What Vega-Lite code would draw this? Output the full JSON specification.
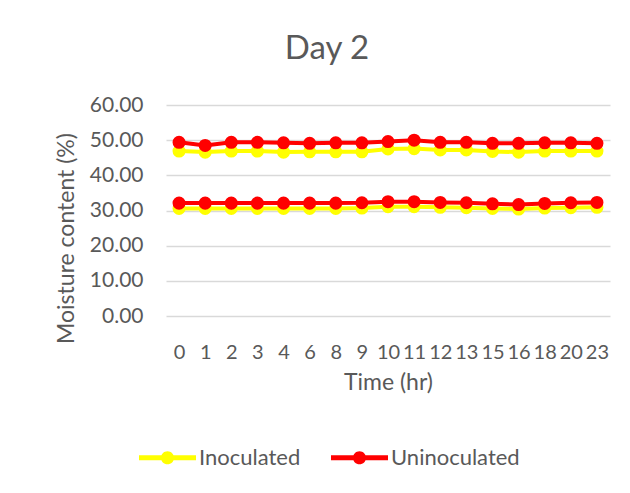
{
  "$schema": "https://vega.github.io/schema/vega-lite/v6.json",
  "width": 444,
  "height": 211,
  "autosize": {"type": "none"},
  "padding": {"left": 166, "top": 105, "right": 20, "bottom": 177},
  "background": "white",
  "title": {"text": "Day 2", "fontSize": 33, "font": "Lato", "fontWeight": "normal", "color": "#595959", "anchor": "middle", "frame": "group", "dx": -61, "offset": 28},
  "config": {
    "view": {"stroke": null},
    "font": "Lato"
  },
  "data": {"values": [
    {"t":0,"g":"Inoculated","s":"hi","v":46.9},{"t":1,"g":"Inoculated","s":"hi","v":46.6},{"t":2,"g":"Inoculated","s":"hi","v":46.9},{"t":3,"g":"Inoculated","s":"hi","v":46.9},{"t":4,"g":"Inoculated","s":"hi","v":46.6},{"t":6,"g":"Inoculated","s":"hi","v":46.7},{"t":8,"g":"Inoculated","s":"hi","v":46.7},{"t":9,"g":"Inoculated","s":"hi","v":46.7},{"t":10,"g":"Inoculated","s":"hi","v":47.5},{"t":11,"g":"Inoculated","s":"hi","v":47.6},{"t":12,"g":"Inoculated","s":"hi","v":47.2},{"t":13,"g":"Inoculated","s":"hi","v":47.2},{"t":15,"g":"Inoculated","s":"hi","v":46.8},{"t":16,"g":"Inoculated","s":"hi","v":46.6},{"t":18,"g":"Inoculated","s":"hi","v":46.9},{"t":20,"g":"Inoculated","s":"hi","v":46.9},{"t":23,"g":"Inoculated","s":"hi","v":46.9},
    {"t":0,"g":"Inoculated","s":"lo","v":30.6},{"t":1,"g":"Inoculated","s":"lo","v":30.6},{"t":2,"g":"Inoculated","s":"lo","v":30.6},{"t":3,"g":"Inoculated","s":"lo","v":30.6},{"t":4,"g":"Inoculated","s":"lo","v":30.6},{"t":6,"g":"Inoculated","s":"lo","v":30.6},{"t":8,"g":"Inoculated","s":"lo","v":30.6},{"t":9,"g":"Inoculated","s":"lo","v":30.7},{"t":10,"g":"Inoculated","s":"lo","v":31.1},{"t":11,"g":"Inoculated","s":"lo","v":31.1},{"t":12,"g":"Inoculated","s":"lo","v":30.9},{"t":13,"g":"Inoculated","s":"lo","v":30.8},{"t":15,"g":"Inoculated","s":"lo","v":30.6},{"t":16,"g":"Inoculated","s":"lo","v":30.4},{"t":18,"g":"Inoculated","s":"lo","v":30.7},{"t":20,"g":"Inoculated","s":"lo","v":30.8},{"t":23,"g":"Inoculated","s":"lo","v":30.9},
    {"t":0,"g":"Uninoculated","s":"hi","v":49.4},{"t":1,"g":"Uninoculated","s":"hi","v":48.5},{"t":2,"g":"Uninoculated","s":"hi","v":49.4},{"t":3,"g":"Uninoculated","s":"hi","v":49.4},{"t":4,"g":"Uninoculated","s":"hi","v":49.25},{"t":6,"g":"Uninoculated","s":"hi","v":49.1},{"t":8,"g":"Uninoculated","s":"hi","v":49.25},{"t":9,"g":"Uninoculated","s":"hi","v":49.25},{"t":10,"g":"Uninoculated","s":"hi","v":49.6},{"t":11,"g":"Uninoculated","s":"hi","v":50.0},{"t":12,"g":"Uninoculated","s":"hi","v":49.4},{"t":13,"g":"Uninoculated","s":"hi","v":49.4},{"t":15,"g":"Uninoculated","s":"hi","v":49.1},{"t":16,"g":"Uninoculated","s":"hi","v":49.1},{"t":18,"g":"Uninoculated","s":"hi","v":49.25},{"t":20,"g":"Uninoculated","s":"hi","v":49.25},{"t":23,"g":"Uninoculated","s":"hi","v":49.1},
    {"t":0,"g":"Uninoculated","s":"lo","v":32.1},{"t":1,"g":"Uninoculated","s":"lo","v":32.1},{"t":2,"g":"Uninoculated","s":"lo","v":32.1},{"t":3,"g":"Uninoculated","s":"lo","v":32.1},{"t":4,"g":"Uninoculated","s":"lo","v":32.1},{"t":6,"g":"Uninoculated","s":"lo","v":32.1},{"t":8,"g":"Uninoculated","s":"lo","v":32.1},{"t":9,"g":"Uninoculated","s":"lo","v":32.2},{"t":10,"g":"Uninoculated","s":"lo","v":32.5},{"t":11,"g":"Uninoculated","s":"lo","v":32.5},{"t":12,"g":"Uninoculated","s":"lo","v":32.3},{"t":13,"g":"Uninoculated","s":"lo","v":32.2},{"t":15,"g":"Uninoculated","s":"lo","v":31.9},{"t":16,"g":"Uninoculated","s":"lo","v":31.7},{"t":18,"g":"Uninoculated","s":"lo","v":32.0},{"t":20,"g":"Uninoculated","s":"lo","v":32.2},{"t":23,"g":"Uninoculated","s":"lo","v":32.3}
  ]},
  "encoding": {
    "x": {"field": "t", "type": "ordinal", "sort": "ascending",
      "axis": {"title": "Time (hr)", "labelAngle": 0, "labelFontSize": 20, "labelColor": "#595959", "labelPadding": 26, "ticks": false, "domain": false, "grid": false, "titleFontSize": 23, "titleFontWeight": "normal", "titleColor": "#595959", "titlePadding": 9, "labelFont": "Lato", "titleFont": "Lato"}},
    "y": {"field": "v", "type": "quantitative", "scale": {"domain": [0, 60]},
      "axis": {"title": "Moisture content (%)", "values": [0,10,20,30,40,50,60], "format": ".2f", "labelFontSize": 21, "labelColor": "#595959", "labelPadding": 23, "ticks": false, "domain": false, "gridColor": "#d9d9d9", "gridWidth": 1.3, "titleFontSize": 23, "titleFontWeight": "normal", "titleColor": "#595959", "titleX": -93, "titleY": 133, "titleBaseline": "alphabetic", "labelFont": "Lato", "titleFont": "Lato"}},
    "color": {"field": "g", "type": "nominal", "scale": {"domain": ["Inoculated", "Uninoculated"], "range": ["#FFFF00", "#FF0000"]},
      "legend": {"title": null, "orient": "none", "direction": "horizontal", "legendX": -27, "legendY": 324, "labelFontSize": 22, "labelColor": "#595959", "labelFont": "Lato", "labelOffset": 3, "columnPadding": 30,
        "symbolType": "M-1,-0.088L-0.2,-0.088L-0.2,0.088L-1,0.088Z M0.2,-0.088L1,-0.088L1,0.088L0.2,0.088Z M-0.23,0A0.23,0.23,0,1,1,0.23,0A0.23,0.23,0,1,1,-0.23,0Z", "symbolSize": 3249, "symbolStrokeWidth": 0, "symbolOpacity": 1}},
    "detail": {"field": "s", "type": "nominal"}
  },
  "layer": [
    {"mark": {"type": "line", "strokeWidth": 4}},
    {"mark": {"type": "point", "filled": true, "size": 170, "opacity": 1}}
  ]
}
